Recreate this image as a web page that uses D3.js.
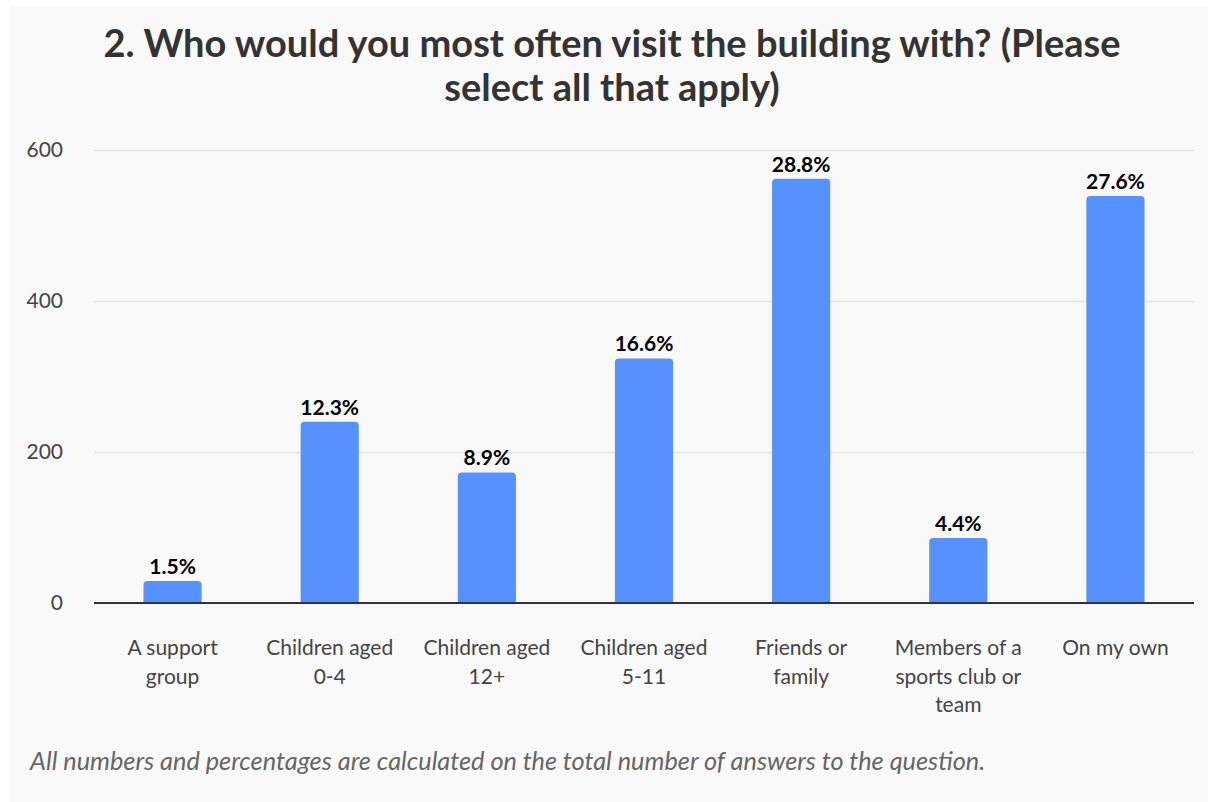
<!DOCTYPE html>
<html>
<head>
<meta charset="utf-8">
<script src="https://cdn.jsdelivr.net/npm/d3@7"></script>
<style>
  html, body { margin: 0; padding: 0; background: #ffffff; }
  svg { display: block; }
  text { font-family: "Source Sans Pro", Lato, "Open Sans", sans-serif; }
</style>
</head>
<body>
<svg id="chart" width="1208" height="802"></svg>
<script>
// Answers per option (counts); percentages are shares of the total.
const categories = [
  "A support\ngroup",
  "Children aged\n0-4",
  "Children aged\n12+",
  "Children aged\n5-11",
  "Friends or\nfamily",
  "Members of a\nsports club or\nteam",
  "On my own"
];
const counts = [29, 240, 173, 324, 562, 86, 539];
const yTicks = [0, 200, 400, 600];

const titleLines = [
  "2. Who would you most often visit the building with? (Please",
  "select all that apply)"
];
const footnote = "All numbers and percentages are calculated on the total number of answers to the question.";

const W = 1208, H = 802;
const plot = { left: 94, right: 1194, top: 150, bottom: 603 };
const fontStack = '"Source Sans Pro", Lato, sans-serif';

const svg = d3.select("#chart");

// panel background
svg.append("rect")
  .attr("x", 10).attr("y", 6)
  .attr("width", W - 10).attr("height", H - 6)
  .attr("fill", "#f9f9f9");

// title
svg.append("g")
  .selectAll("text")
  .data(titleLines)
  .join("text")
  .attr("x", 612)
  .attr("y", (d, i) => 57 + i * 44)
  .attr("text-anchor", "middle")
  .attr("font-size", 38)
  .attr("font-weight", 700)
  .attr("fill", "#333333")
  .text(d => d);

const x = d3.scaleBand()
  .domain(categories)
  .range([plot.left, plot.right])
  .paddingInner(0.63)
  .paddingOuter(0.315);

const y = d3.scaleLinear()
  .domain([0, 600])
  .range([plot.bottom, plot.top]);

// gridlines + y labels
const yAxis = d3.axisLeft(y)
  .tickValues(yTicks)
  .tickSize(-(plot.right - plot.left))
  .tickPadding(31)
  .tickFormat(d3.format("d"));

const gy = svg.append("g")
  .attr("transform", `translate(${plot.left},0)`)
  .call(yAxis);
gy.select(".domain").remove();
gy.selectAll(".tick line")
  .attr("stroke", "#e4e4e4")
  .attr("stroke-width", 1.5);
gy.selectAll(".tick text")
  .attr("font-size", 21)
  .attr("fill", "#444444")
  .style("font-family", fontStack);

const total = d3.sum(counts);
const data = categories.map((c, i) => ({ cat: c, value: counts[i], pct: counts[i] / total * 100 }));

// bars with rounded top corners
const r = 4;
function barPath(d) {
  const x0 = x(d.cat), w = x.bandwidth();
  const yt = y(d.value), yb = y(0);
  const rr = Math.min(r, (yb - yt));
  return `M${x0},${yb}V${yt + rr}Q${x0},${yt} ${x0 + rr},${yt}` +
         `H${x0 + w - rr}Q${x0 + w},${yt} ${x0 + w},${yt + rr}V${yb}Z`;
}
svg.append("g")
  .selectAll("path")
  .data(data)
  .join("path")
  .attr("d", barPath)
  .attr("fill", "#5691fe");

// value labels
svg.append("g")
  .selectAll("text")
  .data(data)
  .join("text")
  .attr("x", d => x(d.cat) + x.bandwidth() / 2)
  .attr("y", d => y(d.value) - 7)
  .attr("text-anchor", "middle")
  .attr("font-size", 21)
  .attr("font-weight", 700)
  .attr("fill", "#000000")
  .text(d => d.pct.toFixed(1) + "%");

// baseline
svg.append("line")
  .attr("x1", plot.left).attr("x2", plot.right)
  .attr("y1", y(0)).attr("y2", y(0))
  .attr("stroke", "#333333")
  .attr("stroke-width", 2);

// category labels
const xAxis = d3.axisBottom(x).tickSize(0).tickPadding(0);
const gx = svg.append("g")
  .attr("transform", `translate(0,${plot.bottom})`)
  .call(xAxis);
gx.select(".domain").remove();
gx.selectAll(".tick text").each(function(d) {
  const t = d3.select(this);
  t.text(null)
    .attr("y", 0)
    .attr("dy", null)
    .attr("font-size", 21)
    .attr("fill", "#444444")
    .style("font-family", fontStack);
  d.split("\n").forEach((line, i) => {
    t.append("tspan")
      .attr("x", 0)
      .attr("y", 52 + i * 28.5)
      .text(line);
  });
});

// footnote
svg.append("text")
  .attr("x", 30)
  .attr("y", 770)
  .attr("font-size", 25.3)
  .attr("font-style", "italic")
  .attr("fill", "#666666")
  .text(footnote);
</script>
</body>
</html>
